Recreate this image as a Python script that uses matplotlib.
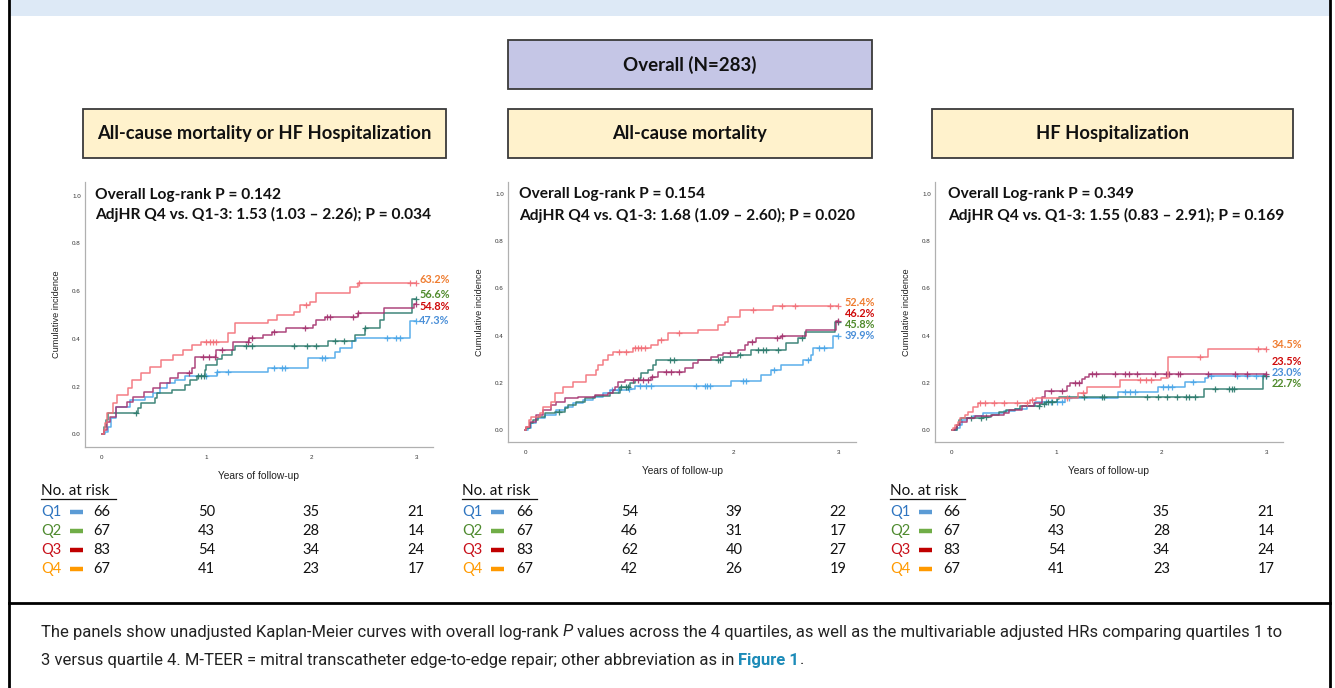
import matplotlib
matplotlib.use("Agg")
import matplotlib.pyplot as plt
import numpy as np
from matplotlib.patches import Rectangle
from matplotlib.lines import Line2D

# ---------------- data ----------------
quartiles = ["Q1", "Q2", "Q3", "Q4"]
year_ticks = [0, 1, 2, 3]
y_ticks = [0.0, 0.2, 0.4, 0.6, 0.8, 1.0]

panel_titles = ["All-cause mortality or HF Hospitalization", "All-cause mortality", "HF Hospitalization"]
logrank_p = ["0.142", "0.154", "0.349"]
adj_hr = ["1.53 (1.03 \u2013 2.26); P = 0.034",
          "1.68 (1.09 \u2013 2.60); P = 0.020",
          "1.55 (0.83 \u2013 2.91); P = 0.169"]

# final cumulative incidence shown at 3 years (Q1..Q4)
pct_composite = [47.3, 56.6, 54.8, 63.2]
pct_mortality = [39.9, 45.8, 46.2, 52.4]
pct_hfh = [23.0, 22.7, 23.5, 34.5]

# number at risk at 0, 1, 2, 3 years (rows Q1..Q4)
risk_composite = [[66, 50, 35, 21], [67, 43, 28, 14], [83, 54, 34, 24], [67, 41, 23, 17]]
risk_mortality = [[66, 54, 39, 22], [67, 46, 31, 17], [83, 62, 40, 27], [67, 42, 26, 19]]
risk_hfh = [[66, 50, 35, 21], [67, 43, 28, 14], [83, 54, 34, 24], [67, 41, 23, 17]]

# --- composite endpoint: step times (years) and cumulative incidence, censor times
c_q1_t = [0, 0.03, 0.06, 0.09, 0.14, 0.27, 0.41, 0.49, 0.56, 0.62, 0.70, 0.80, 1.10, 1.59, 1.97, 2.23, 2.27, 2.39, 2.43, 2.94]
c_q1_y = [0, 0.01, 0.03, 0.07, 0.116, 0.144, 0.158, 0.172, 0.193, 0.214, 0.228, 0.244, 0.262, 0.277, 0.318, 0.345, 0.36, 0.39, 0.405, 0.473]
c_q1_cens = [1.0, 1.1, 1.21, 1.64, 1.72, 1.75, 2.1, 2.13, 2.72, 2.81, 2.85, 3.0]

c_q2_t = [0, 0.02, 0.04, 0.063, 0.35, 0.38, 0.51, 0.525, 0.67, 0.80, 0.84, 0.91, 0.99, 1.0, 1.10, 1.145, 1.24, 1.27, 2.16, 2.42, 2.51, 2.655, 2.69, 2.96]
c_q2_y = [0, 0.03, 0.06, 0.091, 0.109, 0.13, 0.151, 0.172, 0.186, 0.207, 0.228, 0.244, 0.269, 0.29, 0.314, 0.332, 0.353, 0.37, 0.392, 0.416, 0.444, 0.479, 0.51, 0.566]
c_q2_cens = [0.33, 0.92, 0.95, 0.98, 1.38, 1.43, 1.84, 1.96, 2.05, 2.23, 2.31, 2.51, 3.0]

c_q3_t = [0, 0.02, 0.05, 0.08, 0.14, 0.24, 0.30, 0.40, 0.49, 0.56, 0.65, 0.73, 0.86, 0.89, 1.09, 1.25, 1.41, 1.54, 1.63, 1.76, 2.02, 2.05, 2.13, 2.45, 2.69, 2.98]
c_q3_y = [0, 0.02, 0.05, 0.074, 0.116, 0.137, 0.158, 0.179, 0.193, 0.214, 0.235, 0.256, 0.277, 0.325, 0.353, 0.388, 0.402, 0.416, 0.43, 0.444, 0.458, 0.479, 0.493, 0.507, 0.528, 0.548]
c_q3_cens = [0.83, 0.97, 1.02, 1.08, 1.15, 1.40, 1.43, 1.64, 1.94, 2.15, 2.18, 2.40, 2.45, 3.0]

c_q4_t = [0, 0.02, 0.03, 0.05, 0.11, 0.15, 0.25, 0.29, 0.38, 0.46, 0.57, 0.68, 0.78, 0.86, 0.95, 1.21, 1.27, 1.59, 1.67, 1.84, 1.89, 1.99, 2.05, 2.37, 2.45]
c_q4_y = [0, 0.02, 0.046, 0.088, 0.13, 0.165, 0.193, 0.228, 0.256, 0.283, 0.311, 0.332, 0.353, 0.374, 0.388, 0.423, 0.465, 0.479, 0.50, 0.514, 0.542, 0.556, 0.594, 0.616, 0.632]
c_q4_cens = [1.0, 1.03, 1.06, 1.09, 1.95, 2.46, 2.94, 3.0]

# --- all-cause mortality
m_q1_t = [0, 0.03, 0.061, 0.109, 0.188, 0.30, 0.38, 0.46, 0.556, 0.651, 0.747, 0.811, 1.0, 1.05, 1.976, 2.264, 2.36, 2.455, 2.663, 2.743, 2.759, 2.95]
m_q1_y = [0, 0.01, 0.028, 0.049, 0.064, 0.085, 0.099, 0.113, 0.127, 0.141, 0.155, 0.169, 0.172, 0.186, 0.209, 0.233, 0.254, 0.275, 0.297, 0.318, 0.346, 0.399]
m_q1_cens = [0.83, 0.89, 1.0, 1.1, 1.16, 1.21, 1.64, 1.72, 1.74, 1.77, 2.09, 2.12, 2.38, 2.71, 2.82, 2.86, 3.0]

m_q2_t = [0, 0.013, 0.045, 0.077, 0.125, 0.188, 0.284, 0.38, 0.412, 0.492, 0.572, 0.667, 0.811, 0.907, 1.003, 1.05, 1.098, 1.114, 1.178, 1.226, 1.258, 1.897, 2.04, 2.168, 2.503, 2.615, 2.679, 2.966]
m_q2_y = [0, 0.007, 0.028, 0.042, 0.056, 0.071, 0.078, 0.092, 0.106, 0.12, 0.134, 0.144, 0.155, 0.184, 0.198, 0.212, 0.219, 0.24, 0.254, 0.275, 0.297, 0.311, 0.318, 0.339, 0.367, 0.388, 0.417, 0.458]
m_q2_cens = [0.33, 0.92, 0.97, 0.99, 1.39, 1.43, 1.85, 1.87, 2.06, 2.23, 2.28, 2.31, 2.42, 2.65, 3.0]

m_q3_t = [0, 0.013, 0.045, 0.109, 0.172, 0.252, 0.30, 0.38, 0.508, 0.667, 0.795, 0.843, 0.859, 0.891, 0.955, 1.21, 1.274, 1.529, 1.609, 1.657, 1.785, 1.849, 1.897, 2.04, 2.104, 2.136, 2.216, 2.455, 2.695, 2.982]
m_q3_y = [0, 0.014, 0.035, 0.064, 0.085, 0.106, 0.12, 0.134, 0.141, 0.148, 0.155, 0.169, 0.184, 0.205, 0.212, 0.226, 0.247, 0.261, 0.282, 0.297, 0.311, 0.318, 0.325, 0.339, 0.36, 0.374, 0.388, 0.40, 0.424, 0.462]
m_q3_cens = [1.03, 1.08, 1.13, 1.18, 1.22, 1.35, 1.40, 1.47, 1.96, 2.17, 2.41, 2.46, 3.0]

m_q4_t = [0, 0.013, 0.04, 0.061, 0.14, 0.172, 0.252, 0.284, 0.364, 0.46, 0.587, 0.683, 0.699, 0.747, 0.795, 0.843, 1.034, 1.21, 1.274, 1.37, 1.657, 1.849, 1.913, 1.945, 2.056, 2.375]
m_q4_y = [0, 0.014, 0.04, 0.056, 0.071, 0.099, 0.12, 0.155, 0.184, 0.205, 0.233, 0.254, 0.275, 0.297, 0.318, 0.332, 0.346, 0.36, 0.381, 0.41, 0.424, 0.445, 0.459, 0.48, 0.508, 0.524]
m_q4_cens = [0.9, 0.97, 1.05, 1.08, 1.11, 1.15, 1.30, 1.47, 2.18, 2.46, 2.59, 2.92, 3.0]

# --- HF hospitalization
h_q1_t = [0, 0.05, 0.08, 0.10, 0.15, 0.20, 0.30, 0.50, 0.60, 0.72, 0.79, 1.08, 1.59, 1.97, 2.23, 2.42, 2.45]
h_q1_y = [0, 0.01, 0.02, 0.04, 0.05, 0.06, 0.07, 0.08, 0.09, 0.10, 0.12, 0.134, 0.16, 0.18, 0.205, 0.222, 0.23]
h_q1_cens = [0.9, 0.95, 1.0, 1.05, 1.12, 1.65, 1.70, 1.75, 2.02, 2.06, 2.1, 2.3, 2.47, 2.72, 2.82, 2.9, 2.97, 3.0]

h_q2_t = [0, 0.05, 0.07, 0.09, 0.30, 0.37, 0.45, 0.52, 0.60, 0.65, 0.84, 0.90, 1.0, 1.02, 2.41, 2.97]
h_q2_y = [0, 0.02, 0.04, 0.05, 0.055, 0.065, 0.075, 0.085, 0.09, 0.10, 0.11, 0.12, 0.13, 0.14, 0.175, 0.227]
h_q2_cens = [0.18, 0.28, 0.33, 0.83, 0.88, 0.92, 0.96, 1.26, 1.43, 1.45, 1.86, 1.97, 2.05, 2.15, 2.24, 2.26, 2.32, 2.51, 2.65, 2.67, 2.69, 3.0]

h_q3_t = [0, 0.03, 0.05, 0.08, 0.15, 0.22, 0.38, 0.50, 0.55, 0.67, 0.78, 0.86, 0.89, 1.10, 1.13, 1.24, 1.27, 1.31]
h_q3_y = [0, 0.01, 0.02, 0.035, 0.05, 0.06, 0.065, 0.07, 0.085, 0.10, 0.115, 0.14, 0.165, 0.185, 0.20, 0.215, 0.225, 0.235]
h_q3_cens = [0.95, 1.05, 1.18, 1.21, 1.34, 1.38, 1.56, 1.65, 1.69, 1.77, 1.94, 2.04, 2.07, 2.16, 2.18, 2.45, 2.7, 2.82, 3.0]

h_q4_t = [0, 0.016, 0.031, 0.06, 0.079, 0.127, 0.159, 0.206, 0.254, 0.75, 0.80, 1.20, 1.29, 1.61, 2.0, 2.06, 2.45]
h_q4_y = [0, 0.007, 0.021, 0.035, 0.049, 0.063, 0.078, 0.099, 0.115, 0.125, 0.134, 0.155, 0.184, 0.212, 0.219, 0.31, 0.345]
h_q4_cens = [0.27, 0.32, 0.40, 0.50, 0.62, 0.72, 0.77, 1.1, 1.25, 1.8, 1.85, 1.9, 2.37, 2.92, 3.0]

# ---------------- styling ----------------
W, H = 1335, 688
curve_colors = ["#4aa6e8", "#2b7a6c", "#a5336f", "#f26f78"]
pct_colors = ["#4a8fd8", "#4f8a2b", "#cf0a0a", "#ef7d31"]
q_text_colors = ["#2f75c0", "#4e8a2e", "#c8101a", "#ff9a00"]
q_dash_colors = ["#5b9bd5", "#70ad47", "#c00000", "#ff9900"]
calibri = ["Lato", "DejaVu Sans"]
spss = ["Liberation Sans", "DejaVu Sans"]


def fx(x):
    return x / W


def fy(y):
    return 1 - y / H


fig = plt.figure(figsize=(W / 100, H / 100), dpi=100)
fig.patch.set_facecolor("white")

# header band, frame lines
fig.patches.append(Rectangle((fx(9), fy(16)), fx(1321), 16 / H, transform=fig.transFigure,
                             facecolor="#dde9f6", edgecolor="none"))
fig.add_artist(Line2D([fx(9), fx(9)], [fy(0), fy(688)], color="black", lw=2))
fig.add_artist(Line2D([fx(1330), fx(1330)], [fy(0), fy(688)], color="black", lw=2))
fig.add_artist(Line2D([fx(9), fx(1330)], [fy(603), fy(603)], color="black", lw=2))


def box(x0, x1, y0, y1, face, text, size):
    fig.patches.append(Rectangle((fx(x0), fy(y1)), fx(x1 - x0), (y1 - y0) / H,
                                 transform=fig.transFigure, facecolor=face,
                                 edgecolor="#3a3a3a", lw=1.3))
    fig.text(fx((x0 + x1) / 2), fy((y0 + y1) / 2), text, ha="center", va="center",
             fontsize=size, fontweight="bold", family=calibri, color="#111111")


box(508, 872, 40, 89, "#c5c6e6", "Overall (N=283)", 13.5)

panel_boxes = [(83, 446), (508, 872), (932, 1293)]
ax_px = [(85, 432.7, 182, 447), (508, 856, 182, 441.7), (935, 1283, 182, 441.7)]
ax_lims = [(-0.159, 3.159, -0.053, 1.057), (-0.163, 3.17, -0.05, 1.051), (-0.16, 3.161, -0.05, 1.051)]
table_x = [41, 462, 890]

panel_curves = [
    [(c_q1_t, c_q1_y, c_q1_cens), (c_q2_t, c_q2_y, c_q2_cens), (c_q3_t, c_q3_y, c_q3_cens), (c_q4_t, c_q4_y, c_q4_cens)],
    [(m_q1_t, m_q1_y, m_q1_cens), (m_q2_t, m_q2_y, m_q2_cens), (m_q3_t, m_q3_y, m_q3_cens), (m_q4_t, m_q4_y, m_q4_cens)],
    [(h_q1_t, h_q1_y, h_q1_cens), (h_q2_t, h_q2_y, h_q2_cens), (h_q3_t, h_q3_y, h_q3_cens), (h_q4_t, h_q4_y, h_q4_cens)],
]
panel_pcts = [pct_composite, pct_mortality, pct_hfh]
panel_risk = [risk_composite, risk_mortality, risk_hfh]
# label heights (data units) for the end-of-curve percentages, Q1..Q4
pct_label_y = [[0.477, 0.584, 0.536, 0.647], [0.402, 0.447, 0.493, 0.541], [0.243, 0.195, 0.292, 0.36]]
pct_label_x = [3.03, 3.06, 3.05]
# position of the two statistics lines (data units)
ann_x = [-0.064, -0.057, -0.035]
ann_y = [(1.003, 0.919), (1.0, 0.911), (1.0, 0.911)]

for i in range(3):
    bx0, bx1 = panel_boxes[i]
    box(bx0, bx1, 109, 157.5, "#fff2cc", panel_titles[i], 13.2)

    l, r, t, b = ax_px[i]
    ax = fig.add_axes([fx(l), fy(b), fx(r - l), (b - t) / H])
    ax.set_xlim(ax_lims[i][0], ax_lims[i][1])
    ax.set_ylim(ax_lims[i][2], ax_lims[i][3])
    for s in ["top", "right"]:
        ax.spines[s].set_visible(False)
    for s in ["left", "bottom"]:
        ax.spines[s].set_color("#b0b0b0")
        ax.spines[s].set_linewidth(0.9)
    ax.set_xticks(year_ticks)
    ax.set_yticks(y_ticks)
    ax.set_yticklabels([f"{v:.1f}" for v in y_ticks])
    ax.tick_params(length=0, labelsize=4.5, colors="#333333", pad=3)
    ax.tick_params(axis="x", pad=6)
    for lab in ax.get_xticklabels() + ax.get_yticklabels():
        lab.set_family(spss)
    ax.set_xlabel("Years of follow-up", fontsize=7.4, family=spss, color="#222222", labelpad=8)
    ax.set_ylabel("Cumulative incidence", fontsize=6.6, family=spss, color="#222222", labelpad=8)

    for q in range(4):
        tt, yy, cens = panel_curves[i][q]
        tt = np.asarray(tt)
        yy = np.asarray(yy)
        ax.step(np.append(tt, 3.0), np.append(yy, yy[-1]), where="post",
                color=curve_colors[q], lw=1.1, alpha=0.9, zorder=3 + q)
        cy = yy[np.searchsorted(tt, cens, side="right") - 1]
        ax.plot(cens, cy, ls="none", marker="+", ms=4.5, mew=0.9,
                color=curve_colors[q], alpha=0.9, zorder=3 + q)
        ax.text(pct_label_x[i], pct_label_y[i][q], f"{panel_pcts[i][q]:.1f}%",
                color=pct_colors[q], fontsize=7.8, fontweight="bold", family=calibri,
                ha="left", va="center", clip_on=False)

    ax.text(ann_x[i], ann_y[i][0], f"Overall Log-rank P = {logrank_p[i]}",
            fontsize=11.2, fontweight="bold", family=calibri,
            ha="left", va="center", color="#111111")
    ax.text(ann_x[i], ann_y[i][1], f"AdjHR Q4 vs. Q1-3: {adj_hr[i]}",
            fontsize=11.2, fontweight="bold", family=calibri,
            ha="left", va="center", color="#111111")

    # number-at-risk table
    tx = table_x[i]
    fig.text(fx(tx), fy(491), "No. at risk", fontsize=11, family=calibri,
             ha="left", va="center", color="#111111")
    fig.add_artist(Line2D([fx(tx), fx(tx + 75)], [fy(499), fy(499)], color="#111111", lw=0.9))
    row_y = [512, 531, 550, 569]
    for q in range(4):
        fig.text(fx(tx), fy(row_y[q]), quartiles[q], fontsize=10.5, family=calibri,
                 ha="left", va="center", color=q_text_colors[q])
        fig.add_artist(Line2D([fx(tx + 29), fx(tx + 42)], [fy(row_y[q]), fy(row_y[q])],
                              color=q_dash_colors[q], lw=3.2, solid_capstyle="butt"))
        for k, yr in enumerate(year_ticks):
            xfig = fig.transFigure.inverted().transform(ax.transData.transform((yr, 0)))[0]
            fig.text(xfig, fy(row_y[q]), str(panel_risk[i][q][k]), fontsize=10.5,
                     family=calibri, ha="center", va="center", color="#111111")

# caption with mixed styles
renderer = fig.canvas.get_renderer()


def runs(x, y, parts):
    for txt, kw in parts:
        props = dict(ha="left", va="center", fontsize=12,
                     family=["Roboto", "DejaVu Sans"], color="#222222")
        props.update(kw)
        t = fig.text(fx(x), fy(y), txt, **props)
        x += t.get_window_extent(renderer).width


runs(41, 632, [("The panels show unadjusted Kaplan-Meier curves with overall log-rank ", {}),
               ("P", {"style": "italic"}),
               (" values across the 4 quartiles, as well as the multivariable adjusted HRs comparing quartiles 1 to", {})])
runs(41, 660, [("3 versus quartile 4. M-TEER = mitral transcatheter edge-to-edge repair; other abbreviation as in ", {}),
               ("Figure 1", {"fontweight": "bold", "color": "#1c8bb8"}),
               (".", {})])

fig.savefig("out.png", dpi=100)
